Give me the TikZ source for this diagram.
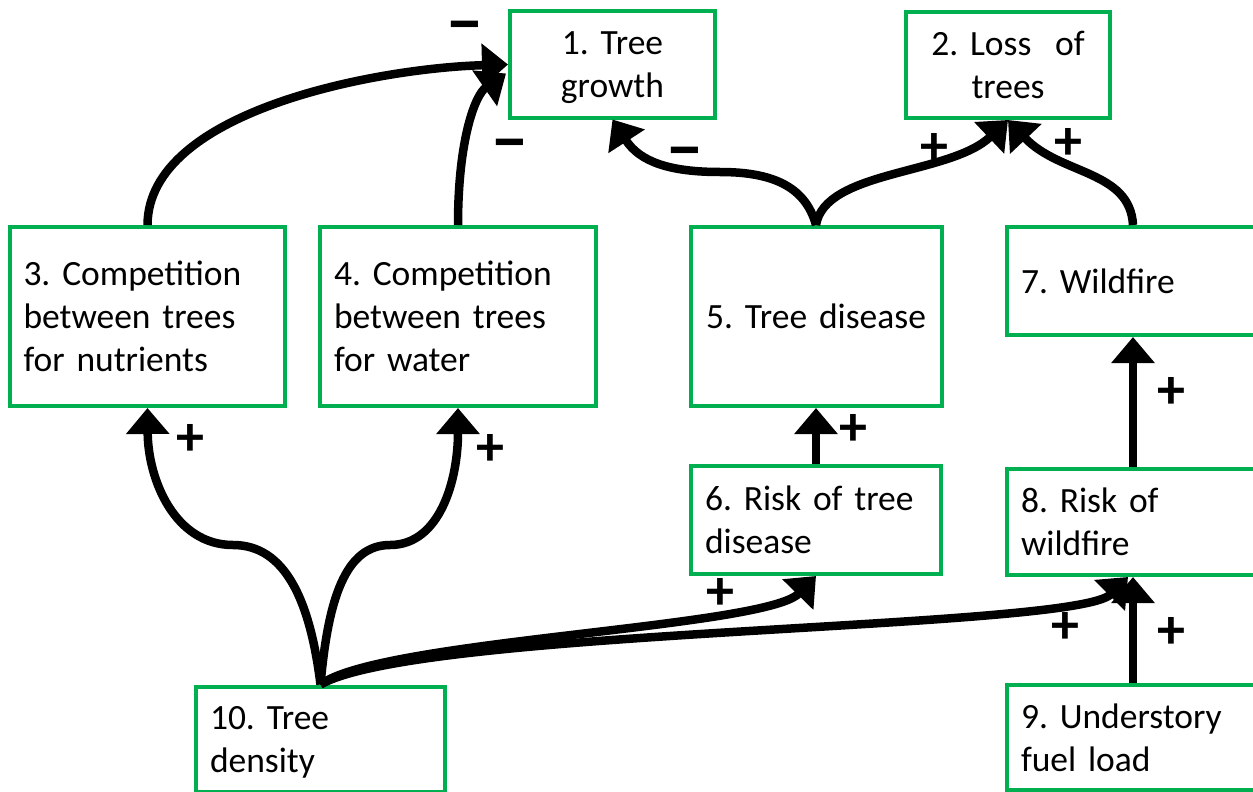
\documentclass[tikz,border=0pt]{standalone}
\usepackage{fontspec}
\setmainfont{Carlito}
\usetikzlibrary{arrows.meta,calc}
\definecolor{boxgreen}{HTML}{00B050}
% a line that keeps its height but has no depth
\newcommand\nodesc[1]{\raisebox{0pt}[\height][0pt]{#1}}
\tikzset{
  box/.style={draw=boxgreen, line width=4pt, fill=white, inner sep=0pt,
    font=\fontsize{35.5}{43}\selectfont\frenchspacing},
  leftbox/.style={box, align=left},
  midbox/.style={box, align=center},
  link/.style={line width=8.5pt, -{Triangle[length=26pt,width=42pt]}},
  sign/.style={font=\fontsize{56}{56}\selectfont\bfseries, inner sep=0pt},
  negsign/.style={font=\fontsize{70}{70}\selectfont\bfseries, inner sep=0pt},
}
\begin{document}
\begin{tikzpicture}[x=1pt, y=-1pt]
\useasboundingbox (0,0) rectangle (1253,792);
\clip (0,0) rectangle (1253,792);

% factor boxes
\node[midbox, minimum width=205, minimum height=106, text width=180] (n1) at (612.5,64.5) {1. Tree\\\nodesc{growth}};
\node[midbox, minimum width=204, minimum height=106, text width=180] (n2) at (1008,65) {2. Loss~~of\\trees};
\node[leftbox, minimum width=275, minimum height=179, text width=248] (n3) at (147.5,316.5) {3. Competition\\between trees\\for nutrients};
\node[leftbox, minimum width=276, minimum height=179, text width=248] (n4) at (458,316.5) {4. Competition\\between trees\\for water};
\node[midbox, minimum width=251, minimum height=179, text width=240] (n5) at (816,316.5) {5. Tree disease};
\node[leftbox, minimum width=250, minimum height=108, text width=222] (n6) at (816,520) {6. Risk of tree\\disease};
\node[leftbox, minimum width=252, minimum height=108, text width=224] (n7) at (1133,281) {7. Wildfire};
\node[leftbox, minimum width=252, minimum height=106.5, text width=224] (n8) at (1133,521.75) {8. Risk of\\wildfire};
\node[leftbox, minimum width=252, minimum height=105, text width=224] (n9) at (1133,737.5) {9. Understory\\fuel load};
\node[leftbox, minimum width=249, minimum height=105, text width=221] (n10) at (320.5,739) {10. Tree\\\nodesc{density}};

% causal links
\draw[link] (n3.north) .. controls (148,110) and (380,68) .. (n1.west);
\draw[link] (n4.north) .. controls (458,140) and (475,95) .. ($(n1.west)+(-2,9)$);
\draw[link] (n5.north) .. controls (805,185) and (770,172) .. (720,172)
  .. controls (670,172) and (640,162) .. (n1.south);
\draw[link] (n5.north) .. controls (825,170) and (950,175) .. (n2.south);
\draw[link] (n7.north) .. controls (1130,170) and (1060,175) .. (n2.south);
\draw[link] (n6.north) -- (n5.south);
\draw[link] (n8.north) -- (n7.south);
\draw[link] (n9.north) -- (n8.south);
\draw[link] (n10.north) .. controls (310,600) and (285,545) .. (233,545)
  .. controls (175,545) and (148,480) .. (n3.south);
\draw[link] (n10.north) .. controls (328,600) and (345,545) .. (390,545)
  .. controls (440,545) and (458,480) .. (n4.south);
\draw[link] (n10.north) .. controls (380,640) and (765,628) .. (n6.south);
\draw[link] (n10.north) .. controls (420,628) and (1075,630) .. ($(n8.south)+(-5,0)$);

% link polarities (minus signs set on their baseline)
\node[negsign] (s1) at (465,47) {\smash{−}};
\node[negsign] (s2) at (510,164) {\smash{−}};
\node[negsign] (s3) at (685,172) {\smash{−}};
\node[sign] (s4) at (934,149) {+};
\node[sign] (s5) at (1068,144) {+};
\node[sign] (s6) at (853,430) {+};
\node[sign] (s7) at (1171,393) {+};
\node[sign] (s8) at (190,440) {+};
\node[sign] (s9) at (490,450) {+};
\node[sign] (s10) at (720,594) {+};
\node[sign] (s11) at (1065,628) {+};
\node[sign] (s12) at (1171,633) {+};
\end{tikzpicture}
\end{document}
